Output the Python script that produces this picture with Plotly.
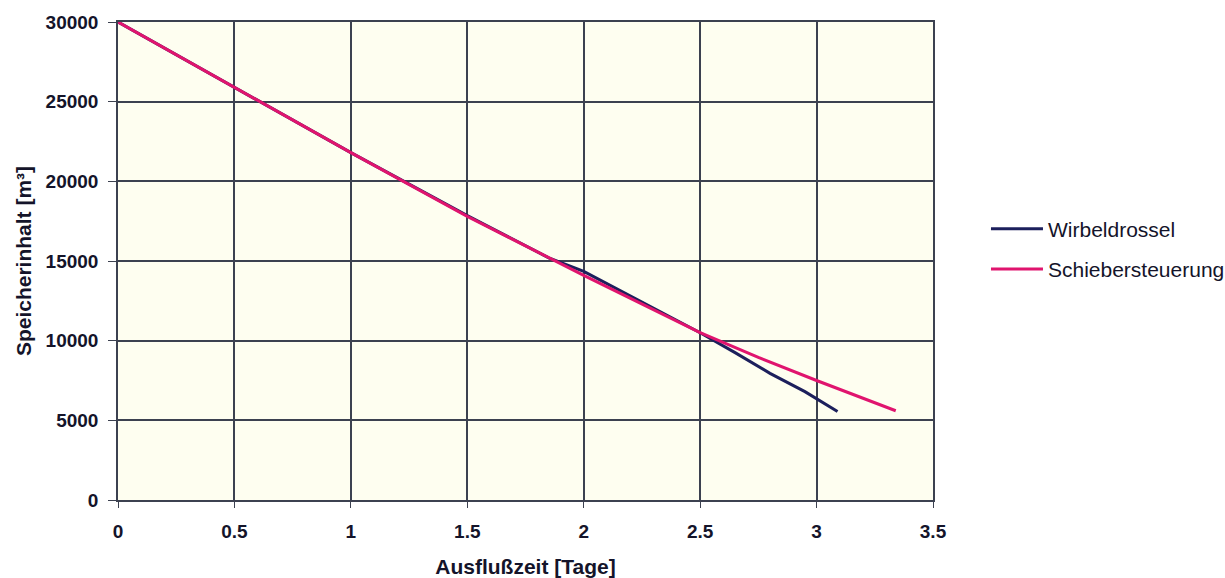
import plotly.graph_objects as go

# Data
wirbel_x = [0, 0.5, 1.0, 1.5, 1.85, 2.0, 2.25, 2.5, 2.65, 2.8, 2.95, 3.09]
wirbel_y = [30000, 25900, 21800, 17850, 15200, 14350, 12450, 10500, 9250, 7950, 6800, 5550]
schieber_x = [0, 0.5, 1.0, 1.5, 2.0, 2.5, 2.75, 3.0, 3.34]
schieber_y = [30000, 25900, 21800, 17800, 14100, 10500, 8950, 7500, 5600]

x_ticks = [0, 0.5, 1, 1.5, 2, 2.5, 3, 3.5]
x_ticklabels = ["0", "0.5", "1", "1.5", "2", "2.5", "3", "3.5"]
y_ticks = [0, 5000, 10000, 15000, 20000, 25000, 30000]
y_ticklabels = ["0", "5000", "10000", "15000", "20000", "25000", "30000"]

font_family = "Liberation Sans, Arial, sans-serif"
text_color = "#14142a"
grid_color = "#3c4150"

fig = go.Figure()
fig.add_trace(go.Scatter(x=wirbel_x, y=wirbel_y, mode="lines", name="Wirbeldrossel",
                         legendgroup="a",
                         line=dict(color="#1c1f5c", width=3)))
fig.add_trace(go.Scatter(x=schieber_x, y=schieber_y, mode="lines", name="Schiebersteuerung",
                         legendgroup="b",
                         line=dict(color="#e0146e", width=3)))

fig.update_layout(
    width=1225, height=578,
    margin=dict(l=118, r=292, t=22, b=78, autoexpand=False),
    paper_bgcolor="white",
    plot_bgcolor="#fefef0",
    font=dict(family=font_family, color=text_color, size=16),
    legend=dict(x=1.065, y=0.525, xanchor="left", yanchor="middle",
                font=dict(size=21, color=text_color), bgcolor="rgba(0,0,0,0)",
                traceorder="grouped", tracegroupgap=10, itemwidth=52),
    showlegend=True,
)
fig.update_xaxes(
    range=[0, 3.5], tickvals=x_ticks, ticktext=x_ticklabels,
    showgrid=True, gridcolor=grid_color, gridwidth=1.5,
    showline=True, linecolor=grid_color, linewidth=1.5, mirror=True,
    ticks="outside", ticklen=6, tickcolor=grid_color,
    zeroline=False,
    tickfont=dict(size=19, family=font_family, weight="bold"),
    ticklabelstandoff=7,
    title=dict(text="<b>Ausflußzeit [Tage]</b>", font=dict(size=21), standoff=20),
)
fig.update_yaxes(
    range=[0, 30000], tickvals=y_ticks, ticktext=y_ticklabels,
    showgrid=True, gridcolor=grid_color, gridwidth=1.5,
    showline=True, linecolor=grid_color, linewidth=1.5, mirror=True,
    ticks="outside", ticklen=8, tickcolor=grid_color,
    zeroline=False,
    tickfont=dict(size=19, family=font_family, weight="bold"),
    ticklabelstandoff=6,
    title=dict(text="<b>Speicherinhalt [m³]</b>", font=dict(size=21), standoff=8),
)

fig.write_html("out.html")
